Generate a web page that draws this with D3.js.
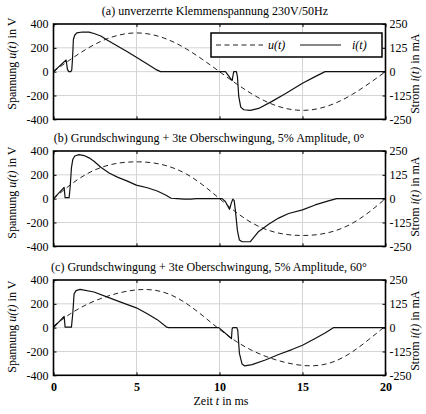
<!DOCTYPE html>
<html><head><meta charset="utf-8">
<script src="https://cdn.jsdelivr.net/npm/d3@7"></script>
<style>
html,body{margin:0;padding:0;background:#fff;}
svg{display:block;}
svg text{font-family:"Liberation Serif","Tinos","Times New Roman","Times","Nimbus Roman","DejaVu Serif",serif;}
</style></head><body>
<svg id="chart" width="426" height="414"></svg>
<script>
// ---------- data ----------
const timeMs = [0,1,2,3,4,5,6,7,8,9,10,11,12,13,14,15,16,17,18,19,20];
// voltage u(t) in V
const uA = [0,100,191,263,309,325,309,263,191,100,0,-100,-191,-263,-309,-325,-309,-263,-191,-100,0];
const uB = [0,114,207,268,300,309,300,268,207,114,0,-114,-207,-268,-300,-309,-300,-268,-207,-114,0];
const uC = [14,115,194,252,293,317,316,279,203,99,-14,-115,-194,-252,-293,-317,-316,-279,-203,-99,14];
// current i(t) in mA
const iA_t = [0,0.76,0.84,0.92,1.04,1.10,1.14,1.20,1.28,1.40,1.74,2.14,2.44,2.85,3.25,3.85,4.45,4.99,5.65,6.15,6.45,10.36,10.76,10.82,10.86,11.02,11.08,11.16,11.28,11.46,11.86,12.36,13.16,13.96,15.0,15.76,16.36,20];
const iA_v = [0,61,12,0,0,9,60,170,191,203,208,207,200,187,165,135,104,75,40,12,0,0,-47,-17,0,0,-26,-130,-186,-200,-203,-193,-156,-116,-61,-26,0,0];
const iB_t = [0,0.64,0.70,0.94,1.00,1.08,1.16,1.28,1.54,1.84,2.14,2.44,2.85,3.35,3.85,4.45,4.99,5.65,6.25,6.75,7.09,7.45,7.86,8.26,8.6,10.16,10.36,10.6,10.72,10.8,10.88,10.96,11.08,11.2,11.36,11.86,12.36,12.96,13.56,14.16,15.0,15.76,16.56,17.06,20];
const iB_v = [0,59,5,5,57,161,205,224,231,226,214,196,165,135,113,92,71,57,40,19,2,0,-3,-2,0,0,-16,-56,-21,-3,-9,-64,-168,-217,-226,-226,-172,-134,-102,-78,-59,-33,-12,0,0];
const iC_t = [0,0.64,0.70,1.08,1.16,1.24,1.36,1.6,2.44,3.25,4.05,4.99,5.65,6.25,6.81,6.95,9.96,10.72,10.76,10.8,11.04,11.1,11.2,11.36,11.52,11.96,12.76,13.56,14.36,15.0,15.76,16.36,16.86,20];
const iC_v = [0,59,3,3,73,177,194,201,187,160,134,104,73,42,3,0,0,-57,-7,0,0,-14,-135,-191,-201,-194,-170,-141,-115,-92,-57,-28,0,0];

const panelTitles = [
  "(a) unverzerrte Klemmenspannung 230V/50Hz",
  "(b) Grundschwingung + 3te Oberschwingung, 5% Amplitude, 0°",
  "(c) Grundschwingung + 3te Oberschwingung, 5% Amplitude, 60°"
];
const xTicks = [0,5,10,15,20];
const uTicks = [-400,-200,0,200,400];
const iTicks = [-250,-125,0,125,250];
const legendLabels = ["u(t)","i(t)"];

// ---------- layout ----------
const svg = d3.select("#chart");
const L = 53.5, R = 385.5, PH = 95.3;
const panelTop = [24,151,280];
const leftLabelShift = [-8,-6,-1];
const rightLabelShift = [2,-2,3];
const titleX = [215,209,209];
const x = d3.scaleLinear().domain([0,20]).range([L,R]);

const panels = [
  {u:uA, it:iA_t, iv:iA_v},
  {u:uB, it:iB_t, iv:iB_v},
  {u:uC, it:iC_t, iv:iC_v}
];

panels.forEach((p, k) => {
  const top = panelTop[k], bot = top + PH;
  const yU = d3.scaleLinear().domain([-400,400]).range([bot, top]);
  const yI = d3.scaleLinear().domain([-250,250]).range([bot, top]);
  const g = svg.append("g");

  // grid
  g.append("g").selectAll("line.gx").data(xTicks.slice(1,-1)).join("line")
    .attr("x1", d=>x(d)).attr("x2", d=>x(d)).attr("y1", top).attr("y2", bot)
    .attr("stroke", "#d4d4d4").attr("stroke-width", 1);
  g.append("g").selectAll("line.gy").data(uTicks.slice(1,-1)).join("line")
    .attr("x1", L).attr("x2", R).attr("y1", d=>yU(d)).attr("y2", d=>yU(d))
    .attr("stroke", "#d4d4d4").attr("stroke-width", 1);

  // voltage (dashed)
  const uLine = d3.line().x((d,i)=>x(timeMs[i])).y(d=>yU(d)).curve(d3.curveNatural);
  g.append("path").datum(p.u).attr("d", uLine)
    .attr("fill","none").attr("stroke","#222").attr("stroke-width",1)
    .attr("stroke-dasharray","5,3.5");

  // current (solid)
  const iData = p.it.map((t,i)=>[t, p.iv[i]]);
  const iLine = d3.line().x(d=>x(d[0])).y(d=>yI(d[1]));
  g.append("path").datum(iData).attr("d", iLine)
    .attr("fill","none").attr("stroke","#111").attr("stroke-width",1.2)
    .attr("stroke-linejoin","round");

  // axes
  const fmt = d => String(d);
  const ax = g.append("g").attr("transform", `translate(${L},0)`)
    .call(d3.axisLeft(yU).tickValues(uTicks).tickSize(-3).tickPadding(5).tickFormat(fmt));
  const axR = g.append("g").attr("transform", `translate(${R},0)`)
    .call(d3.axisRight(yI).tickValues(iTicks).tickSize(-3).tickPadding(4).tickFormat(fmt));
  const axT = g.append("g").attr("transform", `translate(0,${top})`)
    .call(d3.axisTop(x).tickValues(xTicks).tickSize(-3).tickFormat(""));
  const axB = g.append("g").attr("transform", `translate(0,${bot})`)
    .call(d3.axisBottom(x).tickValues(xTicks).tickSize(-3).tickPadding(7.5)
      .tickFormat(k === 2 ? fmt : ""));
  [ax, axR, axT, axB].forEach(a => {
    a.attr("font-family", null);
    a.select(".domain").remove();
    a.selectAll(".tick line").attr("stroke","#000").attr("stroke-width",1);
    a.selectAll("text").attr("font-size", 12).attr("fill","#000");
  });
  axB.selectAll("text").attr("font-weight","bold");

  // frame
  g.append("rect").attr("x", L).attr("y", top).attr("width", R-L).attr("height", PH)
    .attr("fill","none").attr("stroke","#000").attr("stroke-width",1.6);

  // title
  g.append("text").attr("x", titleX[k]).attr("y", top - 9).attr("text-anchor","middle")
    .attr("font-size", 12).text(panelTitles[k]);

  // left label
  const ly = (top+bot)/2 + leftLabelShift[k];
  const tl = g.append("text").attr("transform", `translate(16,${ly}) rotate(-90)`)
    .attr("text-anchor","middle").attr("font-size",12);
  tl.append("tspan").text("Spannung ");
  tl.append("tspan").attr("font-style","italic").text("u(t)");
  tl.append("tspan").text(" in V");

  // right label
  const ry = (top+bot)/2 + rightLabelShift[k];
  const tr = g.append("text").attr("transform", `translate(419,${ry}) rotate(-90)`)
    .attr("text-anchor","middle").attr("font-size",12);
  tr.append("tspan").text("Strom ");
  tr.append("tspan").attr("font-style","italic").text("i(t)");
  tr.append("tspan").text(" in mA");
});

// x-axis label
const xl = svg.append("text").attr("x", 221).attr("y", 405).attr("text-anchor","middle").attr("font-size",12);
xl.append("tspan").text("Zeit ");
xl.append("tspan").attr("font-style","italic").text("t");
xl.append("tspan").text(" in ms");

// legend (panel a)
const lg = svg.append("g");
lg.append("rect").attr("x",211).attr("y",33).attr("width",171).attr("height",24)
  .attr("fill","#fff").attr("stroke","#000").attr("stroke-width",1.5);
lg.append("line").attr("x1",216).attr("x2",263).attr("y1",45).attr("y2",45)
  .attr("stroke","#222").attr("stroke-width",1).attr("stroke-dasharray","5,3.5");
lg.append("text").attr("x",268).attr("y",49).attr("font-size",12).attr("font-style","italic").text(legendLabels[0]);
lg.append("line").attr("x1",300).attr("x2",341).attr("y1",45).attr("y2",45)
  .attr("stroke","#111").attr("stroke-width",1.2);
lg.append("text").attr("x",352).attr("y",49).attr("font-size",12).attr("font-style","italic").text(legendLabels[1]);
</script>
</body></html>
